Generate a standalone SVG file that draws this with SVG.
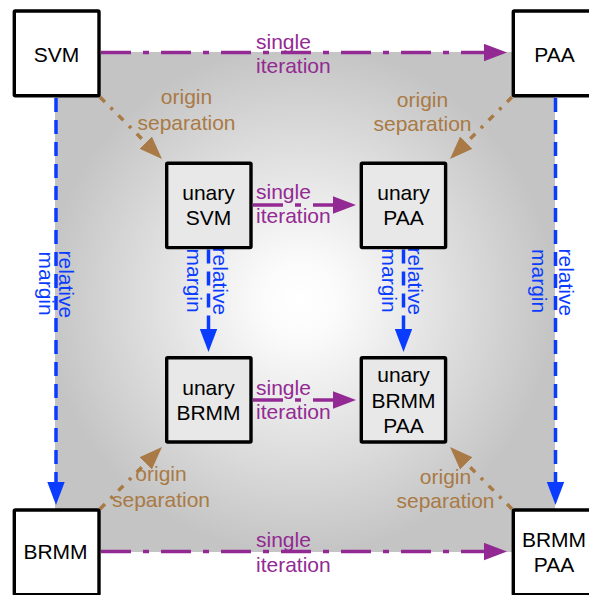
<svg xmlns="http://www.w3.org/2000/svg" width="589" height="595" viewBox="0 0 589 595">
<style>
  .box{stroke:#000;stroke-width:3.4;fill:#fff}
  .inner{fill:#e8e8e8}
  .nt{font-family:"Liberation Sans",Arial,sans-serif;font-size:21px;fill:#000;text-anchor:middle}
  .lab{font-family:"Liberation Sans",Arial,sans-serif;font-size:21px}
  .pl{fill:#932a93}
  .bl{fill:#0a3cff}
  .br{fill:#a97a45;text-anchor:middle}
  .iter{fill:none;stroke:#932a93;stroke-width:3.5;stroke-dasharray:30 12 6 12}
  .marg{fill:none;stroke:#0a3cff;stroke-width:3.5;stroke-dasharray:14 8}
  .orig{fill:none;stroke:#a97a45;stroke-width:3.5;stroke-dasharray:7 8 3 8}
</style>
<defs>
  <radialGradient id="bg" gradientUnits="userSpaceOnUse" cx="300" cy="300" r="255">
    <stop offset="0" stop-color="#ffffff"/>
    <stop offset="0.15" stop-color="#fbfbfb"/>
    <stop offset="1" stop-color="#c4c4c4"/>
  </radialGradient>
  <marker id="ap" markerUnits="userSpaceOnUse" markerWidth="24" markerHeight="18" refX="11" refY="8.7" orient="auto" viewBox="0 0 24 18">
    <path d="M0,0 L23,8.7 L0,17.4 Z" fill="#932a93"/>
  </marker>
  <marker id="ab" markerUnits="userSpaceOnUse" markerWidth="24" markerHeight="18" refX="11" refY="8.7" orient="auto" viewBox="0 0 24 18">
    <path d="M0,0 L23,8.7 L0,17.4 Z" fill="#0a3cff"/>
  </marker>
  <marker id="ao" markerUnits="userSpaceOnUse" markerWidth="24" markerHeight="18" refX="11" refY="8.7" orient="auto" viewBox="0 0 24 18">
    <path d="M0,0 L23,8.7 L0,17.4 Z" fill="#a97a45"/>
  </marker>
</defs>
<rect x="55" y="52" width="500" height="500" fill="url(#bg)"/>
<g id="connectors">
  <line class="iter" x1="101" y1="52.5" x2="495" y2="52.5" marker-end="url(#ap)"/>
  <line class="iter" x1="253" y1="205" x2="344" y2="205" marker-end="url(#ap)"/>
  <line class="iter" x1="253" y1="400" x2="344" y2="400" marker-end="url(#ap)"/>
  <line class="iter" x1="101" y1="551.5" x2="495" y2="551.5" marker-end="url(#ap)"/>
  <line class="marg" x1="56" y1="98" x2="56" y2="493" marker-end="url(#ab)"/>
  <line class="marg" x1="555.5" y1="98" x2="555.5" y2="493" marker-end="url(#ab)"/>
  <line class="marg" x1="208.5" y1="249.5" x2="208.5" y2="340" marker-end="url(#ab)"/>
  <line class="marg" x1="403.5" y1="249.5" x2="403.5" y2="340" marker-end="url(#ab)"/>
  <line class="orig" x1="100" y1="97" x2="153.5" y2="150.5" marker-end="url(#ao)"/>
  <line class="orig" x1="512" y1="97" x2="458.5" y2="150.5" marker-end="url(#ao)"/>
  <line class="orig" x1="100" y1="509" x2="153.5" y2="455.5" marker-end="url(#ao)"/>
  <line class="orig" x1="512" y1="509" x2="458.5" y2="455.5" marker-end="url(#ao)"/>
</g>
<g id="labels" class="lab">
  <text class="pl" x="256" y="48.5">single</text>
  <text class="pl" x="256" y="73">iteration</text>
  <text class="pl" x="256" y="198.5">single</text>
  <text class="pl" x="256" y="223">iteration</text>
  <text class="pl" x="256" y="394.5">single</text>
  <text class="pl" x="256" y="419">iteration</text>
  <text class="pl" x="256" y="546.5">single</text>
  <text class="pl" x="256" y="571.5">iteration</text>
  <text class="br" x="186.5" y="104">origin</text>
  <text class="br" x="186.5" y="129.5">separation</text>
  <text class="br" x="422.5" y="106.5">origin</text>
  <text class="br" x="422.5" y="131">separation</text>
  <text class="br" x="161" y="481">origin</text>
  <text class="br" x="161" y="506.5">separation</text>
  <text class="br" x="445.5" y="483.5">origin</text>
  <text class="br" x="445.5" y="508">separation</text>
  <text class="bl" transform="translate(59,250.5) rotate(90)">relative</text>
  <text class="bl" transform="translate(38.5,251.5) rotate(90)">margin</text>
  <text class="bl" transform="translate(212.5,247.5) rotate(90)">relative</text>
  <text class="bl" transform="translate(187,248.5) rotate(90)">margin</text>
  <text class="bl" transform="translate(407.5,247.5) rotate(90)">relative</text>
  <text class="bl" transform="translate(382,248.5) rotate(90)">margin</text>
  <text class="bl" transform="translate(558.5,248.5) rotate(90)">relative</text>
  <text class="bl" transform="translate(532,249) rotate(90)">margin</text>
</g>
<g id="svm">
  <rect class="box" x="14.3" y="11" width="84.7" height="84.7" rx="1"/>
  <text class="nt" x="56.5" y="61.5">SVM</text>
</g>
<g id="paa">
  <rect class="box" x="513.3" y="11" width="84.7" height="84.7" rx="1"/>
  <text class="nt" x="554.5" y="61.5">PAA</text>
</g>
<g id="brmm">
  <rect class="box" x="14.3" y="510" width="84.7" height="84.7" rx="1"/>
  <text class="nt" x="55.5" y="558.5">BRMM</text>
</g>
<g id="brmm-paa">
  <rect class="box" x="513.3" y="510" width="84.7" height="84.7" rx="1"/>
  <text class="nt" x="554" y="546.5">BRMM</text>
  <text class="nt" x="554" y="571.5">PAA</text>
</g>
<g id="unary-svm">
  <rect class="box inner" x="166.7" y="163.3" width="84.3" height="84.3" rx="1"/>
  <text class="nt" x="208.5" y="199.5">unary</text>
  <text class="nt" x="208.5" y="225">SVM</text>
</g>
<g id="unary-paa">
  <rect class="box inner" x="361.3" y="163.3" width="84.3" height="84.3" rx="1"/>
  <text class="nt" x="403.5" y="199.5">unary</text>
  <text class="nt" x="403.5" y="225">PAA</text>
</g>
<g id="unary-brmm">
  <rect class="box inner" x="166.7" y="357.7" width="84.3" height="84.3" rx="1"/>
  <text class="nt" x="208.5" y="394.5">unary</text>
  <text class="nt" x="208.5" y="420">BRMM</text>
</g>
<g id="unary-brmm-paa">
  <rect class="box inner" x="361.3" y="357.7" width="84.3" height="84.3" rx="1"/>
  <text class="nt" x="403.5" y="382">unary</text>
  <text class="nt" x="403.5" y="407.5">BRMM</text>
  <text class="nt" x="403.5" y="432.5">PAA</text>
</g>
</svg>
